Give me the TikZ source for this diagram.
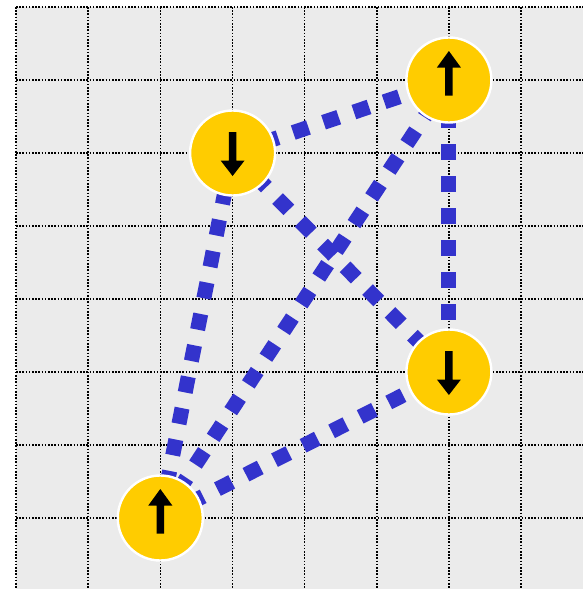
\documentclass[tikz,border=0pt]{standalone}
\usetikzlibrary{calc}
\definecolor{bgray}{HTML}{EBEBEB}
\definecolor{spinyellow}{HTML}{FFCC00}
\definecolor{linkblue}{HTML}{3333CC}
\tikzset{
  gridline/.style={black, line width=1.6pt, dash pattern=on 1.6pt off 1.6pt},
  bond/.style={linkblue, line width=15pt, dash pattern=on 16pt off 16pt},
  site/.style={circle, fill=spinyellow, draw=white, line width=2.4pt, minimum size=85pt, inner sep=0pt},
  arrowfill/.style={fill=black, draw=none}
}
\newcommand{\uparr}[1]{\fill[arrowfill] ($(#1)+(0,-29)$) -- ++(12,16.5) -- ++(-8.3,0) -- ++(0,28) -- ++(-7.4,0) -- ++(0,-28) -- ++(-8.3,0) -- cycle;}
\newcommand{\downarr}[1]{\fill[arrowfill] ($(#1)+(0,23)$) -- ++(12,-15.5) -- ++(-8.3,0) -- ++(0,-28.5) -- ++(-7.4,0) -- ++(0,28.5) -- ++(-8.3,0) -- cycle;}
\begin{document}
\begin{tikzpicture}[x=1pt,y=-1pt]
\useasboundingbox (0,0) rectangle (583,589);
\fill[white] (0,0) rectangle (583,589);
\fill[bgray] (16,7) rectangle (583,589);
\foreach \k in {0,...,7} {
  \draw[gridline] ({16+72.15*\k},7) -- ({16+72.15*\k},589);
}
\foreach \k in {0,...,7} {
  \draw[gridline] (16,{7+73*\k}) -- (583,{7+73*\k});
}
\coordinate (A) at (160.3,518);
\coordinate (B) at (232.6,153);
\coordinate (C) at (448.9,80);
\coordinate (D) at (448.9,372);
\draw[bond] (A) -- (B);
\draw[bond] (A) -- (C);
\draw[bond] (A) -- (D);
\draw[bond] (B) -- (C);
\draw[bond] (B) -- (D);
\draw[bond] (C) -- (D);
\node[site] (nA) at (A) {};
\node[site] (nB) at (B) {};
\node[site] (nC) at (C) {};
\node[site] (nD) at (D) {};
\uparr{A}
\uparr{C}
\downarr{B}
\downarr{D}
\end{tikzpicture}
\end{document}
